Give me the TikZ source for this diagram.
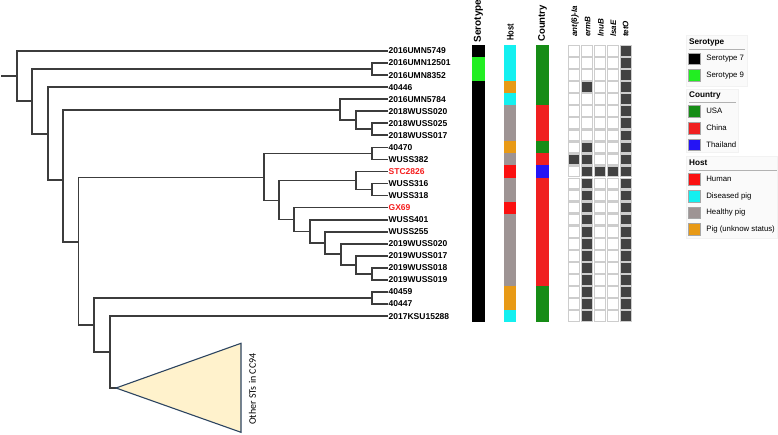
\documentclass[tikz,border=0pt]{standalone}
\usepackage{fontspec}
\setmainfont{Liberation Sans}
\newfontfamily\calibrifont{Carlito}
\usetikzlibrary{positioning}

\definecolor{branchgray}{RGB}{60,60,60}
\definecolor{seroseven}{RGB}{0,0,0}
\definecolor{seronine}{RGB}{34,238,34}
\definecolor{usagreen}{RGB}{22,140,22}
\definecolor{chinared}{RGB}{240,32,32}
\definecolor{thaiblue}{RGB}{36,20,245}
\definecolor{humanred}{RGB}{250,16,16}
\definecolor{diseasedcyan}{RGB}{20,240,240}
\definecolor{healthygray}{RGB}{158,148,148}
\definecolor{unknownorange}{RGB}{232,154,22}
\definecolor{genedark}{RGB}{66,66,66}
\definecolor{cellborder}{RGB}{205,205,205}
\definecolor{cladefill}{RGB}{255,242,204}
\definecolor{cladeline}{RGB}{44,68,96}
\definecolor{labelred}{RGB}{245,30,30}

\begin{document}
\begin{tikzpicture}[x=1pt,y=-1pt,
  branch/.style={every edge/.style={draw=branchgray,line width=1.7pt,
    line cap=rect,to path={|- (\tikztotarget)}}},
  leaf/.style={anchor=west,inner sep=1.5pt,
    font=\fontsize{8.5}{9}\selectfont\bfseries},
  hot leaf/.style={leaf,text=labelred},
  col head/.style={rotate=90,anchor=west,inner sep=0pt,font=\bfseries},
  gene head/.style={rotate=90,anchor=west,inner sep=0pt,
    font=\fontsize{8}{8}\selectfont\bfseries\itshape},
  gene cell/.style={draw=cellborder,line width=1.2pt,fill=white},
  gene on/.style={draw=cellborder,line width=1.2pt,fill=genedark},
  swatch/.style={draw=black!35,line width=0.4pt,minimum size=11.5pt,inner sep=0pt},
  leg title/.style={anchor=west,inner sep=0pt,font=\fontsize{8.2}{9}\selectfont\bfseries},
  leg text/.style={inner sep=0pt,font=\fontsize{7.8}{9}\selectfont},
  leg box/.style={fill=black!2,draw=black!5,line width=0.5pt}]
  \useasboundingbox (0,0) rectangle (778,435);

  % leaves
  \node[leaf] (UMN5749) at (387,51) {2016UMN5749};
  \node[leaf] (UMN12501) at (387,63.05) {2016UMN12501};
  \node[leaf] (UMN8352) at (387,75.1) {2016UMN8352};
  \node[leaf] (A40446) at (387,87.15) {40446};
  \node[leaf] (UMN5784) at (387,99.2) {2016UMN5784};
  \node[leaf] (W18020) at (387,111.25) {2018WUSS020};
  \node[leaf] (W18025) at (387,123.3) {2018WUSS025};
  \node[leaf] (W18017) at (387,135.35) {2018WUSS017};
  \node[leaf] (A40470) at (387,147.4) {40470};
  \node[leaf] (WU382) at (387,159.45) {WUSS382};
  \node[hot leaf] (STC) at (387,171.5) {STC2826};
  \node[leaf] (WU316) at (387,183.55) {WUSS316};
  \node[leaf] (WU318) at (387,195.6) {WUSS318};
  \node[hot leaf] (GX) at (387,207.65) {GX69};
  \node[leaf] (WU401) at (387,219.7) {WUSS401};
  \node[leaf] (WU255) at (387,231.75) {WUSS255};
  \node[leaf] (W19020) at (387,243.8) {2019WUSS020};
  \node[leaf] (W19017) at (387,255.85) {2019WUSS017};
  \node[leaf] (W19018) at (387,267.9) {2019WUSS018};
  \node[leaf] (W19019) at (387,279.95) {2019WUSS019};
  \node[leaf] (A40459) at (387,292) {40459};
  \node[leaf] (A40447) at (387,304.05) {40447};
  \node[leaf] (KSU) at (387,316.1) {2017KSU15288};

  % inner nodes
  \coordinate (R0) at (2,76);
  \coordinate (A) at (17,76);
  \coordinate (B) at (32,101);
  \coordinate (C) at (48,134);
  \coordinate (D) at (63,180);
  \coordinate (E) at (78.5,241.7);
  \coordinate (F) at (94,325);
  \coordinate (G) at (110,352);
  \coordinate (N23) at (372,69.1);
  \coordinate (N5678) at (340,109.7);
  \coordinate (N678) at (356,120.3);
  \coordinate (N78) at (372,129.3);
  \coordinate (N920) at (264,177.5);
  \coordinate (N910) at (372,153.4);
  \coordinate (N1120) at (279,200.5);
  \coordinate (N1113) at (356,180.5);
  \coordinate (N1213) at (372,189.6);
  \coordinate (N1420) at (294,219.5);
  \coordinate (N1520) at (310,231.4);
  \coordinate (N1620) at (325,243);
  \coordinate (N1720) at (341,254.3);
  \coordinate (N1820) at (356,264.9);
  \coordinate (N1920) at (372,273.9);
  \coordinate (N2122) at (372,298);
  \coordinate (T) at (116,388);

  \path[branch]
    (R0) edge (A)
    (A) edge (UMN5749) edge (B)
    (B) edge (N23) edge (C)
    (N23) edge (UMN12501) edge (UMN8352)
    (C) edge (A40446) edge (D)
    (D) edge (N5678) edge (E)
    (N5678) edge (UMN5784) edge (N678)
    (N678) edge (W18020) edge (N78)
    (N78) edge (W18025) edge (W18017)
    (E) edge (N920) edge (F)
    (N920) edge (N910) edge (N1120)
    (N910) edge (A40470) edge (WU382)
    (N1120) edge (N1113) edge (N1420)
    (N1113) edge (STC) edge (N1213)
    (N1213) edge (WU316) edge (WU318)
    (N1420) edge (GX) edge (N1520)
    (N1520) edge (WU401) edge (N1620)
    (N1620) edge (WU255) edge (N1720)
    (N1720) edge (W19020) edge (N1820)
    (N1820) edge (W19017) edge (N1920)
    (N1920) edge (W19018) edge (W19019)
    (F) edge (N2122) edge (G)
    (N2122) edge (A40459) edge (A40447)
    (G) edge (KSU) edge (T);

  % collapsed clade
  \draw[fill=cladefill,draw=cladeline,line width=1.1pt,line join=miter]
    (T) -- (241,343.3) -- (241,432.3) -- cycle;
  \node[rotate=90,inner sep=0pt,font=\calibrifont\fontsize{10}{11}\selectfont]
    (CC94) at (252.5,389) {Other STs in CC94};

  % metadata columns
  \foreach \fillc/\f/\t in {seroseven/1/1,seronine/2/3,seroseven/4/23}
    \fill[\fillc] (472,{45+(\f-1)*12.05}) rectangle (484.5,{45+\t*12.05});
  \foreach \fillc/\f/\t in {diseasedcyan/1/3,unknownorange/4/4,diseasedcyan/5/5,
      healthygray/6/8,unknownorange/9/9,healthygray/10/10,humanred/11/11,
      healthygray/12/13,humanred/14/14,healthygray/15/20,unknownorange/21/22,
      diseasedcyan/23/23}
    \fill[\fillc] (504.3,{45+(\f-1)*12.05}) rectangle (516.3,{45+\t*12.05});
  \foreach \fillc/\f/\t in {usagreen/1/5,chinared/6/8,usagreen/9/9,chinared/10/10,
      thaiblue/11/11,chinared/12/20,usagreen/21/23}
    \fill[\fillc] (536.3,{45+(\f-1)*12.05}) rectangle (548.7,{45+\t*12.05});

  \node[col head] (HSero) at (478.3,42.5) {\fontsize{10}{11}\selectfont Serotype};
  \node[col head] (HHost) at (510.3,41) {\scalebox{0.78}[1]{\fontsize{9.6}{10}\selectfont Host}};
  \node[col head] (HCountry) at (542.5,42) {\fontsize{9.6}{10}\selectfont Country};

  % genes
  \foreach \r in {1,...,23}{
    \pgfmathsetmacro\yy{51+(\r-1)*12.05}
    \foreach \cx in {574,587,600,613,626}
      \draw[gene cell] ({\cx-5.8},{\yy-5.4}) rectangle ({\cx+5.8},{\yy+5.4});
  }
  \foreach \cx/\r in {574/10,587/4,600/11,613/11,
      587/9,587/10,587/11,587/12,587/13,587/14,587/15,587/16,587/17,587/18,
      587/19,587/20,587/21,587/22,587/23}{
    \pgfmathsetmacro\yy{51+(\r-1)*12.05}
    \draw[gene on] ({\cx-5.8},{\yy-5.4}) rectangle ({\cx+5.8},{\yy+5.4});
  }
  \foreach \r in {1,...,23}{
    \pgfmathsetmacro\yy{51+(\r-1)*12.05}
    \draw[gene on] (620.2,{\yy-5.4}) rectangle (631.8,{\yy+5.4});
  }
  \node[gene head] (Gant) at (575,37) {ant(6)-Ia};
  \node[gene head] (GermB) at (587.7,37) {ermB};
  \node[gene head] (GlnuB) at (600.7,37) {lnuB};
  \node[gene head] (GlsaE) at (613.3,37) {lsaE};
  \node[gene head] (GtetO) at (625.5,37) {tetO};

  % legend
  \draw[leg box] (686.5,35) rectangle (747,86);
  \draw[leg box] (686.5,89) rectangle (738,152);
  \draw[leg box] (686.5,156) rectangle (777.5,238);

  \node[leg title] (LSero) at (689,42.3) {Serotype};
  \draw[black!30,line width=0.6pt] (689,49.3) -- (745,49.3);
  \node[swatch,fill=seroseven] (S7) at (694.2,58.5) {};
  \node[leg text,right=6pt of S7] (S7t) {Serotype 7};
  \node[swatch,fill=seronine] (S9) at (694.2,75.2) {};
  \node[leg text,right=6pt of S9] (S9t) {Serotype 9};

  \node[leg title] (LCountry) at (689,95.7) {Country};
  \draw[black!30,line width=0.6pt] (689,102.3) -- (736,102.3);
  \node[swatch,fill=usagreen] (CUSA) at (694.2,111.3) {};
  \node[leg text,right=6pt of CUSA] (CUSAt) {USA};
  \node[swatch,fill=chinared] (CChina) at (694.2,128) {};
  \node[leg text,right=6pt of CChina] (CChinat) {China};
  \node[swatch,fill=thaiblue] (CThai) at (694.2,144.7) {};
  \node[leg text,right=6pt of CThai] (CThait) {Thailand};

  \node[leg title] (LHost) at (689,162.5) {Host};
  \draw[black!30,line width=0.6pt] (689,170) -- (777,170);
  \node[swatch,fill=humanred] (HHum) at (694.2,179.3) {};
  \node[leg text,right=6pt of HHum] (HHumt) {Human};
  \node[swatch,fill=diseasedcyan] (HDis) at (694.2,196) {};
  \node[leg text,right=6pt of HDis] (HDist) {Diseased pig};
  \node[swatch,fill=healthygray] (HHea) at (694.2,212.5) {};
  \node[leg text,right=6pt of HHea] (HHeat) {Healthy pig};
  \node[swatch,fill=unknownorange] (HUnk) at (694.2,229) {};
  \node[leg text,right=6pt of HUnk] (HUnkt) {Pig (unknow status)};
\end{tikzpicture}
\end{document}
